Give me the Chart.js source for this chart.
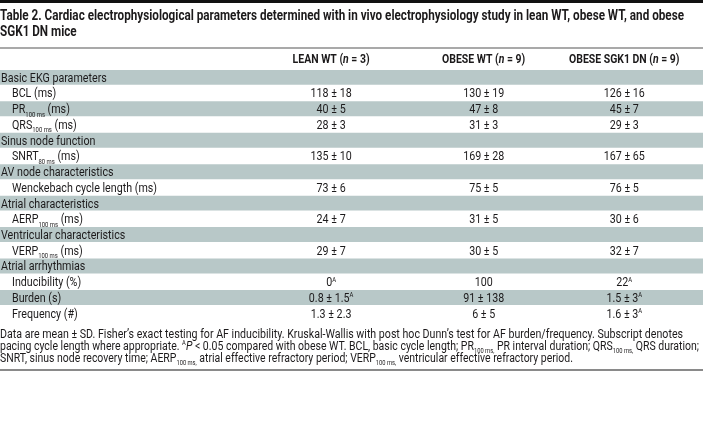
<!DOCTYPE html>
<html>
<head>
<meta charset="utf-8">
<script src="https://cdn.jsdelivr.net/npm/chart.js@4.4.1/dist/chart.umd.min.js"></script>
<style>
  html, body { margin: 0; padding: 0; background: #fff; }
  #wrap { width: 703px; height: 435px; }
</style>
</head>
<body>
<div id="wrap"><canvas id="tbl" width="703" height="435"></canvas></div>
<script>
// markup: _{..} subscript, ^{..} superscript, *..* italic
const titleLines = [
  "Table 2. Cardiac electrophysiological parameters determined with in vivo electrophysiology study in lean WT, obese WT, and obese",
  "SGK1 DN mice"
];
const columns = ["LEAN WT (*n* = 3)", "OBESE WT (*n* = 9)", "OBESE SGK1 DN (*n* = 9)"];

const rowLabels = [
  "Basic EKG parameters", "BCL (ms)", "PR_{100 ms} (ms)", "QRS_{100 ms} (ms)",
  "Sinus node function", "SNRT_{80 ms} (ms)",
  "AV node characteristics", "Wenckebach cycle length (ms)",
  "Atrial characteristics", "AERP_{100 ms} (ms)",
  "Ventricular characteristics", "VERP_{100 ms} (ms)",
  "Atrial arrhythmias", "Inducibility (%)", "Burden (s)", "Frequency (#)"
];
const isSection = [true, false, false, false, true, false, true, false, true, false, true, false, true, false, false, false];

const leanWT   = ["", "118 ± 18", "40 ± 5", "28 ± 3", "", "135 ± 10", "", "73 ± 6", "", "24 ± 7", "", "29 ± 7", "", "0^{A}", "0.8 ± 1.5^{A}", "1.3 ± 2.3"];
const obeseWT  = ["", "130 ± 19", "47 ± 8", "31 ± 3", "", "169 ± 28", "", "75 ± 5", "", "31 ± 5", "", "30 ± 5", "", "100", "91 ± 138", "6 ± 5"];
const obeseSGK = ["", "126 ± 16", "45 ± 7", "29 ± 3", "", "167 ± 65", "", "76 ± 5", "", "30 ± 6", "", "32 ± 7", "", "22^{A}", "1.5 ± 3^{A}", "1.6 ± 3^{A}"];

const footnote = [
  "Data are mean ± SD. Fisher’s exact testing for AF inducibility. Kruskal-Wallis with post hoc Dunn’s test for AF burden/frequency. Subscript denotes",
  "pacing cycle length where appropriate. ^{A}*P* < 0.05 compared with obese WT. BCL, basic cycle length; PR_{100 ms,} PR interval duration; QRS_{100 ms,} QRS duration;",
  "SNRT, sinus node recovery time; AERP_{100 ms,} atrial effective refractory period; VERP_{100 ms,} ventricular effective refractory period."
];
// widths of the footnote lines in the original
const footnoteWidths = [683, 699, 573];

// column centres on the x scale (0..100)
const colPos = [47.1, 68.8, 88.8];
const SHADE = "#b8c8c8";
const INK = "#1c1a1b";
const FAM = "Roboto, 'DejaVu Sans', sans-serif";

function parseRich(s) {
  const out = [];
  const re = /_\{([^}]*)\}|\^\{([^}]*)\}|\*([^*]*)\*|([^_^*]+)/g;
  let m;
  while ((m = re.exec(s))) {
    if (m[1] !== undefined) out.push({ t: m[1], k: "sub" });
    else if (m[2] !== undefined) out.push({ t: m[2], k: "sup" });
    else if (m[3] !== undefined) out.push({ t: m[3], k: "it" });
    else out.push({ t: m[4], k: "n" });
  }
  return out;
}

function segFont(k, size, weight) {
  if (k === "sub" || k === "sup") return `${weight} ${(size * 0.55).toFixed(1)}px ${FAM}`;
  if (k === "it") return `italic ${weight} ${size}px ${FAM}`;
  return `${weight} ${size}px ${FAM}`;
}

function richWidth(ctx, s, size, weight) {
  let w = 0;
  parseRich(s).forEach(sg => { ctx.font = segFont(sg.k, size, weight); w += ctx.measureText(sg.t).width; });
  return w;
}

// st = {size, weight, h}; h is a horizontal squeeze to mimic the narrow original face
function drawRich(ctx, s, x, y, st, align) {
  const segs = parseRich(s);
  let w = 0;
  segs.forEach(sg => { ctx.font = segFont(sg.k, st.size, st.weight); sg.w = ctx.measureText(sg.t).width; w += sg.w; });
  ctx.save();
  ctx.translate(align === "center" ? x - w * st.h / 2 : x, y);
  ctx.scale(st.h, 1);
  ctx.textAlign = "left";
  ctx.textBaseline = "alphabetic";
  let cx = 0;
  segs.forEach(sg => {
    ctx.font = segFont(sg.k, st.size, st.weight);
    let dy = 0;
    if (sg.k === "sub") dy = st.size * 0.28;
    if (sg.k === "sup") dy = -st.size * 0.36;
    ctx.fillText(sg.t, cx, dy);
    cx += sg.w;
  });
  ctx.restore();
}

// text styles, squeezed so that a sample line has the width seen in the original
function style(ctx, size, weight, sample, target) {
  return { size, weight, h: target / richWidth(ctx, sample, size, weight) };
}

const tablePlugin = {
  id: "tableText",
  afterDatasetsDraw(chart) {
    const ctx = chart.ctx;
    const xs = chart.scales.x, ys = chart.scales.y;
    const W = chart.width;
    ctx.save();

    const stTitle = style(ctx, 14, "bold", titleLines[0], 684);
    const stHead = style(ctx, 12, "bold", columns[0], 77);
    const stCell = style(ctx, 12.5, "normal", rowLabels[7], 145);

    // top bar and rules
    ctx.fillStyle = "#111";
    ctx.fillRect(0, 0, W, 3);
    ctx.fillStyle = "#555";
    ctx.fillRect(0, 47.5, W, 1);
    ctx.fillStyle = "#8a8a8a";
    ctx.fillRect(0, 369, W, 2);

    ctx.fillStyle = INK;
    titleLines.forEach((t, i) => drawRich(ctx, t, 0, 19.5 + i * 16, stTitle, "left"));

    columns.forEach((c, j) => drawRich(ctx, c, xs.getPixelForValue(colPos[j]), 62.5, stHead, "center"));

    const cols = [leanWT, obeseWT, obeseSGK];
    rowLabels.forEach((lab, i) => {
      const yb = ys.getPixelForValue(i) + 4.4;
      drawRich(ctx, lab, isSection[i] ? 1 : 12, yb, stCell, "left");
      cols.forEach((col, j) => {
        if (col[i]) drawRich(ctx, col[i], xs.getPixelForValue(colPos[j]), yb, stCell, "center");
      });
    });

    footnote.forEach((t, i) => {
      const st = style(ctx, 12, "normal", t, footnoteWidths[i]);
      drawRich(ctx, t, 0, 337.5 + i * 12, st, "left");
    });
    ctx.restore();
  }
};

new Chart(document.getElementById("tbl"), {
  type: "bar",
  data: {
    labels: rowLabels,
    datasets: [{
      data: rowLabels.map(() => 100),
      backgroundColor: rowLabels.map((r, i) => i % 2 === 0 ? SHADE : "rgba(0,0,0,0)"),
      borderWidth: 0,
      barPercentage: 0.95,
      categoryPercentage: 1
    }]
  },
  options: {
    indexAxis: "y",
    responsive: false,
    animation: false,
    devicePixelRatio: 1,
    layout: { padding: { top: 69.5, bottom: 114, left: 0, right: 0 } },
    scales: {
      x: { type: "linear", min: 0, max: 100, display: false },
      y: { display: false }
    },
    plugins: { legend: { display: false }, tooltip: { enabled: false } }
  },
  plugins: [tablePlugin]
});
</script>
</body>
</html>
